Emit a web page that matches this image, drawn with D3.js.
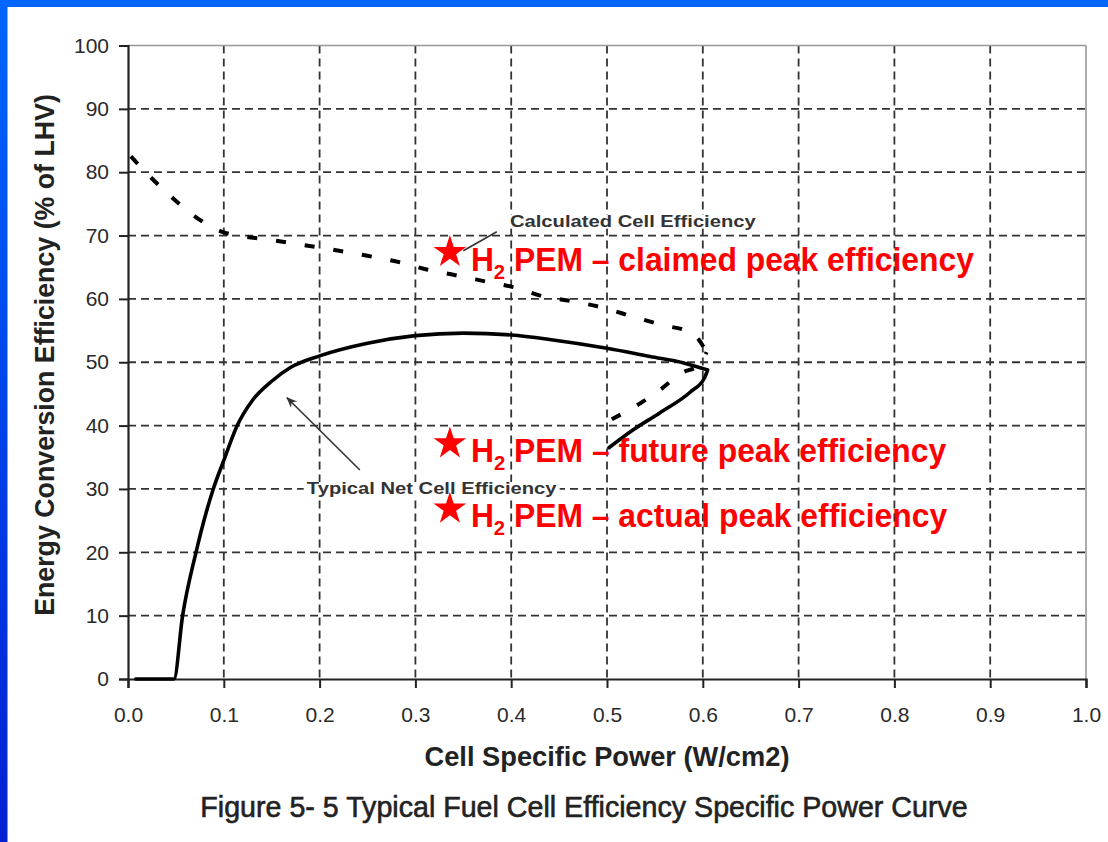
<!DOCTYPE html>
<html>
<head>
<meta charset="utf-8">
<title>Fuel Cell Efficiency</title>
<script src="https://d3js.org/d3.v7.min.js"></script>
<style>
body { margin: 0; background: #fff; }
svg { display: block; font-family: "Liberation Sans", Arial, sans-serif; }
</style>
</head>
<body>
<div class="chart"></div>
<script>
// tick values
var xTicks = [0, 0.1, 0.2, 0.3, 0.4, 0.5, 0.6, 0.7, 0.8, 0.9, 1.0];
var yTicks = [0, 10, 20, 30, 40, 50, 60, 70, 80, 90, 100];

// Typical Net Cell Efficiency (power, efficiency) - goes out and back
var netPower = [0.008, 0.048, 0.057, 0.071, 0.089, 0.1, 0.114, 0.13, 0.15, 0.17, 0.2, 0.25, 0.3, 0.35, 0.4, 0.44, 0.5, 0.545, 0.58, 0.605, 0.602, 0.587, 0.555, 0.527, 0.502];
var netEff   = [0, 0, 10, 20, 30, 34.5, 40, 44, 47, 49.2, 51.0, 53.0, 54.2, 54.6, 54.3, 53.6, 52.2, 50.9, 49.9, 48.8, 47.6, 45.3, 42.0, 39.3, 36.5];

// Calculated Cell Efficiency
var calcPower = [0.003, 0.025, 0.046, 0.07, 0.1, 0.15, 0.2, 0.25, 0.286, 0.313, 0.343, 0.375, 0.404, 0.433, 0.465, 0.496, 0.527, 0.557, 0.589, 0.604, 0.596, 0.578, 0.555, 0.529, 0.505];
var calcEff   = [82.5, 79.0, 76.0, 73.0, 70.5, 69.3, 68.1, 66.8, 65.7, 64.6, 63.7, 62.7, 61.8, 60.4, 59.6, 58.6, 57.2, 55.9, 54.6, 51.6, 49.6, 48.3, 45.6, 43.0, 41.0];

// H2 PEM stars
var starLabels = ["claimed", "future", "actual"];
var starPower  = [0.336, 0.336, 0.336];
var starEff    = [67.6, 37.4, 27.1];

var W = 1108, H = 842;
var margin = {top: 45.5, right: 22, bottom: 163, left: 128};
var width = W - margin.left - margin.right,
    height = H - margin.top - margin.bottom;

var svg = d3.select(".chart").append("svg")
    .attr("width", W)
    .attr("height", H);

// blue slide frame
var defs = svg.append("defs");
var grad = defs.append("linearGradient")
    .attr("id", "frame").attr("x1", 0).attr("y1", 0).attr("x2", 0).attr("y2", 1);
grad.append("stop").attr("offset", "0%").attr("stop-color", "#0066ff");
grad.append("stop").attr("offset", "100%").attr("stop-color", "#0420d2");
svg.append("rect").attr("width", W).attr("height", H).attr("fill", "#fff");
svg.append("rect").attr("x", 0).attr("y", 0).attr("width", 7.5).attr("height", H).attr("fill", "url(#frame)");
svg.append("rect").attr("x", 0).attr("y", 0).attr("width", W).attr("height", 7).attr("fill", "#0066ff");

defs.append("marker")
    .attr("id", "arrow")
    .attr("viewBox", "0 0 10 10")
    .attr("refX", 9).attr("refY", 5)
    .attr("markerWidth", 11).attr("markerHeight", 11)
    .attr("markerUnits", "userSpaceOnUse")
    .attr("orient", "auto")
  .append("path")
    .attr("d", "M0,1 L10,5 L0,9 L3,5 Z")
    .attr("fill", "#333");

var x = d3.scaleLinear().domain([0, 1]).range([0, width]);
var y = d3.scaleLinear().domain([0, 100]).range([height, 0]);

var g = svg.append("g").attr("transform", "translate(" + margin.left + "," + margin.top + ")");

// dashed grid
g.append("g").selectAll("line")
    .data(xTicks.filter(function(d) { return d > 0 && d < 1; }))
  .enter().append("line")
    .attr("x1", x).attr("x2", x)
    .attr("y1", 0).attr("y2", height)
    .attr("stroke", "#333").attr("stroke-width", 1.8)
    .attr("stroke-dasharray", "8,5");
g.append("g").selectAll("line")
    .data(yTicks.filter(function(d) { return d > 0 && d < 100; }))
  .enter().append("line")
    .attr("y1", y).attr("y2", y)
    .attr("x1", 0).attr("x2", width)
    .attr("stroke", "#333").attr("stroke-width", 1.8)
    .attr("stroke-dasharray", "8,5");

// frame: top + right light grey
g.append("line").attr("x1", 0).attr("x2", width).attr("y1", 0).attr("y2", 0)
    .attr("stroke", "#999").attr("stroke-width", 1.6);
g.append("line").attr("x1", width).attr("x2", width).attr("y1", 0).attr("y2", height)
    .attr("stroke", "#999").attr("stroke-width", 1.6);

// axes
var xAxis = d3.axisBottom(x).tickValues(xTicks).tickFormat(d3.format(".1f")).tickSize(9).tickPadding(19);
var yAxis = d3.axisLeft(y).tickValues(yTicks).tickFormat(d3.format("d")).tickSize(9).tickPadding(10);

var gx = g.append("g").attr("transform", "translate(0," + height + ")").call(xAxis);
var gy = g.append("g").call(yAxis);
[gx, gy].forEach(function(a) {
  a.attr("font-size", 21).attr("font-family", "'Liberation Sans', Arial, sans-serif");
  a.select(".domain").attr("stroke", "#222").attr("stroke-width", 2.2);
  a.selectAll(".tick line").attr("stroke", "#222").attr("stroke-width", 2);
  a.selectAll(".tick text").attr("fill", "#2a2a2a");
});

// curves: each one runs out to max power then turns back,
// so draw the outgoing and returning legs as monotone pieces
var line = d3.line()
    .x(function(d) { return x(d[0]); })
    .y(function(d) { return y(d[1]); })
    .curve(d3.curveMonotoneX);

function outAndBack(px, py) {
  var pts = px.map(function(p, i) { return [p, py[i]]; });
  var tip = d3.maxIndex(px);
  var outLeg = pts.slice(0, tip + 1);
  var backLeg = pts.slice(tip).reverse();
  return line(outLeg) + line(backLeg);
}

g.append("path")
    .attr("d", outAndBack(calcPower, calcEff))
    .attr("fill", "none")
    .attr("stroke", "#000")
    .attr("stroke-width", 4)
    .attr("stroke-dasharray", "10,19");

g.append("path")
    .attr("d", outAndBack(netPower, netEff))
    .attr("fill", "none")
    .attr("stroke", "#000")
    .attr("stroke-width", 3.6)
    .attr("stroke-linecap", "round")
    .attr("stroke-linejoin", "round");

// black annotations with white backing, stretched to the figure's width
function note(txt, px, py, w) {
  var bg = g.append("rect").attr("fill", "#fff");
  var cx = x(px);
  var t = g.append("text")
      .attr("x", cx).attr("y", y(py))
      .attr("text-anchor", "middle")
      .attr("fill", "#333")
      .style("font-size", "16px")
      .style("font-weight", "bold")
      .text(txt);
  var bb = t.node().getBBox();
  var s = w / bb.width;
  t.attr("transform", "translate(" + cx + ",0) scale(" + s + ",1) translate(" + (-cx) + ",0)");
  bg.attr("x", cx - w / 2 - 3).attr("y", bb.y + 2)
    .attr("width", w + 6).attr("height", bb.height - 3);
  return t;
}

g.append("line")
    .attr("x1", x(0.385)).attr("y1", y(70.6))
    .attr("x2", x(0.35)).attr("y2", y(67.6))
    .attr("stroke", "#333").attr("stroke-width", 1.6);
note("Calculated Cell Efficiency", 0.527, 71.4, 246);

g.append("line")
    .attr("x1", x(0.242)).attr("y1", y(33.0))
    .attr("x2", x(0.166)).attr("y2", y(44.4))
    .attr("stroke", "#333").attr("stroke-width", 1.6)
    .attr("marker-end", "url(#arrow)");
note("Typical Net Cell Efficiency", 0.317, 29.2, 250);

// red stars + labels
var star = d3.symbol().type(d3.symbolStar).size(330);
var redW = [504, 476, 477];
starLabels.forEach(function(lab, i) {
  g.append("path")
      .attr("d", star)
      .attr("transform", "translate(" + x(starPower[i]) + "," + (y(starEff[i]) + 1.5) + ")")
      .attr("fill", "#ff0000");
  var ax = x(starPower[i]) + 21;
  var t = g.append("text")
      .attr("x", ax)
      .attr("y", y(starEff[i]) + 20)
      .attr("fill", "#ff0000")
      .style("font-size", "33px")
      .style("font-weight", "bold");
  t.append("tspan").text("H");
  t.append("tspan").attr("dy", 8).style("font-size", "21px").text("2");
  t.append("tspan").attr("dy", -8).text(" PEM \u2013 " + lab + " peak efficiency");
  var bb = t.node().getBBox();
  var s = redW[i] / bb.width;
  t.attr("transform", "translate(" + ax + ",0) scale(" + s + ",1) translate(" + (-ax) + ",0)");
});

// axis titles and caption
var xt = svg.append("text")
    .attr("x", margin.left + width / 2 - 0).attr("y", 766)
    .attr("text-anchor", "middle")
    .attr("fill", "#222")
    .style("font-size", "25px").style("font-weight", "bold")
    .text("Cell Specific Power (W/cm2)");
var yt = svg.append("text")
    .attr("transform", "translate(54,355) rotate(-90)")
    .attr("text-anchor", "middle")
    .attr("fill", "#222")
    .style("font-size", "25px").style("font-weight", "bold")
    .text("Energy Conversion Efficiency (% of LHV)");
var cap = svg.append("text")
    .attr("x", 584).attr("y", 817)
    .attr("text-anchor", "middle")
    .attr("fill", "#222")
    .attr("stroke", "#222").attr("stroke-width", 0.6)
    .style("font-size", "23px")
    .text("Figure 5- 5 Typical Fuel Cell Efficiency Specific Power Curve");

// size titles so that they span the same width as in the figure
function fitSize(t, w) {
  var bb = t.node().getBBox();
  var s = w / bb.width;
  t.style("font-size", (parseFloat(t.style("font-size")) * s) + "px");
}
fitSize(xt, 365);
fitSize(cap, 768);
fitSize(yt, 522);
</script>
</body>
</html>
